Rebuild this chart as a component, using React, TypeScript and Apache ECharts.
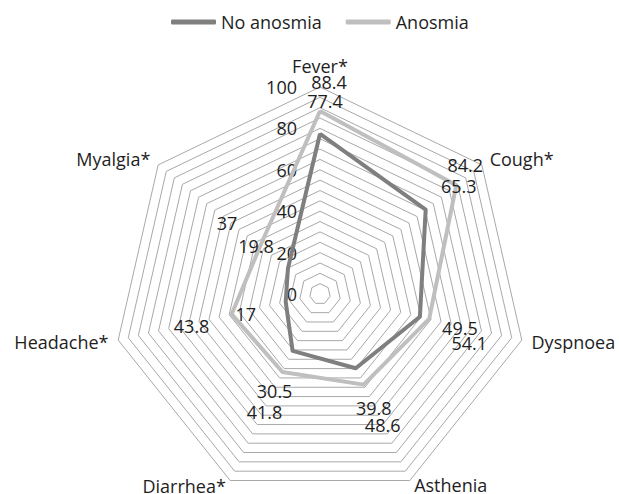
import React, { useEffect, useRef } from 'react';
import * as echarts from 'echarts';

// Indicators listed clockwise from the top, as in the reference
const INDICATORS = ['Fever*', 'Cough*', 'Dyspnoea', 'Asthenia', 'Diarrhea*', 'Headache*', 'Myalgia*'];
const SERIES_NAMES = ['No anosmia', 'Anosmia'];
const NO_ANOSMIA = [77.4, 65.3, 49.5, 39.8, 30.5, 17, 19.8];
const ANOSMIA = [88.4, 84.2, 54.1, 48.6, 41.8, 43.8, 37];
const TICKS = [0, 20, 40, 60, 80, 100];

// styling
const COLORS = ['#7f7f7f', '#bfbfbf'];
const TEXT = '#1e1e1e';
const FONT = '"Open Sans", "DejaVu Sans", sans-serif';
const CX = 320;
const CY = 294;
const R = 207;
// label offsets (px) relative to each point, per indicator in clockwise order
const LABEL_OFFSETS = [
  [[5, -33], [33, -24], [40, 11], [18, 40], [-18, 40], [-40, 12], [-32, -22]],
  [[9, -29], [9, -20], [40, 24], [19, 40], [-18, 40], [-40, 12], [-33, -23]],
];
// extra bottom padding on some axis names to nudge them up
const NAME_PAD = [4, 0, 0, 10, 8, 0, 0];

// ECharts radar goes counter-clockwise: reorder
const ORDER = [0, 6, 5, 4, 3, 2, 1];

export default function App() {
  const ref = useRef<HTMLDivElement>(null);
  useEffect(() => {
    if (!ref.current) return;
    const chart = echarts.init(ref.current, null, { renderer: 'svg' });
    const N = INDICATORS.length;
    const mkLayout = (s: number) => (params: any) => {
      const r = params.rect;
      const px = r.x + r.width / 2;
      const py = r.y + r.height / 2;
      const ang = Math.atan2(px - CX, -(py - CY));
      const k = ((Math.round(ang / ((2 * Math.PI) / N)) % N) + N) % N;
      const off = LABEL_OFFSETS[s][k];
      return { dx: off[0], dy: off[1] };
    };
    const seriesData = [NO_ANOSMIA, ANOSMIA];
    const rich: any = {};
    INDICATORS.forEach((_, i) => {
      rich['p' + i] = {
        fontSize: 18,
        color: TEXT,
        fontFamily: FONT,
        lineHeight: 18,
        padding: [0, 0, NAME_PAD[i], 0],
      };
    });
    chart.setOption({
      animation: false,
      backgroundColor: '#ffffff',
      color: COLORS,
      textStyle: { fontFamily: FONT },
      legend: {
        left: 166,
        top: 8,
        itemWidth: 45,
        itemHeight: 5,
        itemGap: 24,
        icon: 'roundRect',
        textStyle: { fontSize: 18, color: TEXT, fontFamily: FONT },
        data: SERIES_NAMES,
      },
      grid: { left: CX, top: CY - R, width: 1, height: R },
      xAxis: { type: 'value', show: false },
      yAxis: {
        type: 'value',
        min: TICKS[0],
        max: TICKS[TICKS.length - 1],
        interval: TICKS[1] - TICKS[0],
        axisLine: { show: false },
        axisTick: { show: false },
        splitLine: { show: false },
        axisLabel: { margin: 23, fontSize: 18, color: TEXT, fontFamily: FONT, lineHeight: 16 },
      },
      radar: {
        center: [CX, CY],
        radius: R,
        startAngle: 90,
        splitNumber: 20,
        shape: 'polygon',
        nameGap: 10,
        axisName: {
          color: TEXT,
          fontSize: 18,
          fontFamily: FONT,
          formatter: (name: string) => `{p${INDICATORS.indexOf(name)}|${name}}`,
          rich,
        },
        indicator: ORDER.map((i) => ({ name: INDICATORS[i], min: 0, max: 100 })),
        axisLine: { show: false },
        axisTick: { show: false },
        axisLabel: { show: false },
        splitArea: { show: false },
        splitLine: { lineStyle: { color: '#a8a8a8', width: 1 } },
      },
      series: SERIES_NAMES.map((name, s) => ({
        type: 'radar',
        name,
        symbol: 'circle',
        symbolSize: 2,
        itemStyle: { color: COLORS[s] },
        lineStyle: { color: COLORS[s], width: 4 },
        label: {
          show: true,
          position: 'inside',
          color: TEXT,
          fontSize: 18,
          fontFamily: FONT,
          lineHeight: 15,
        },
        labelLayout: mkLayout(s),
        data: [{ name, value: ORDER.map((i) => seriesData[s][i]) }],
      })),
    });
    return () => chart.dispose();
  }, []);
  return (
    <div
      ref={ref}
      style={{ position: 'absolute', left: 0, top: 0, width: 619, height: 494, background: '#fff' }}
    />
  );
}
